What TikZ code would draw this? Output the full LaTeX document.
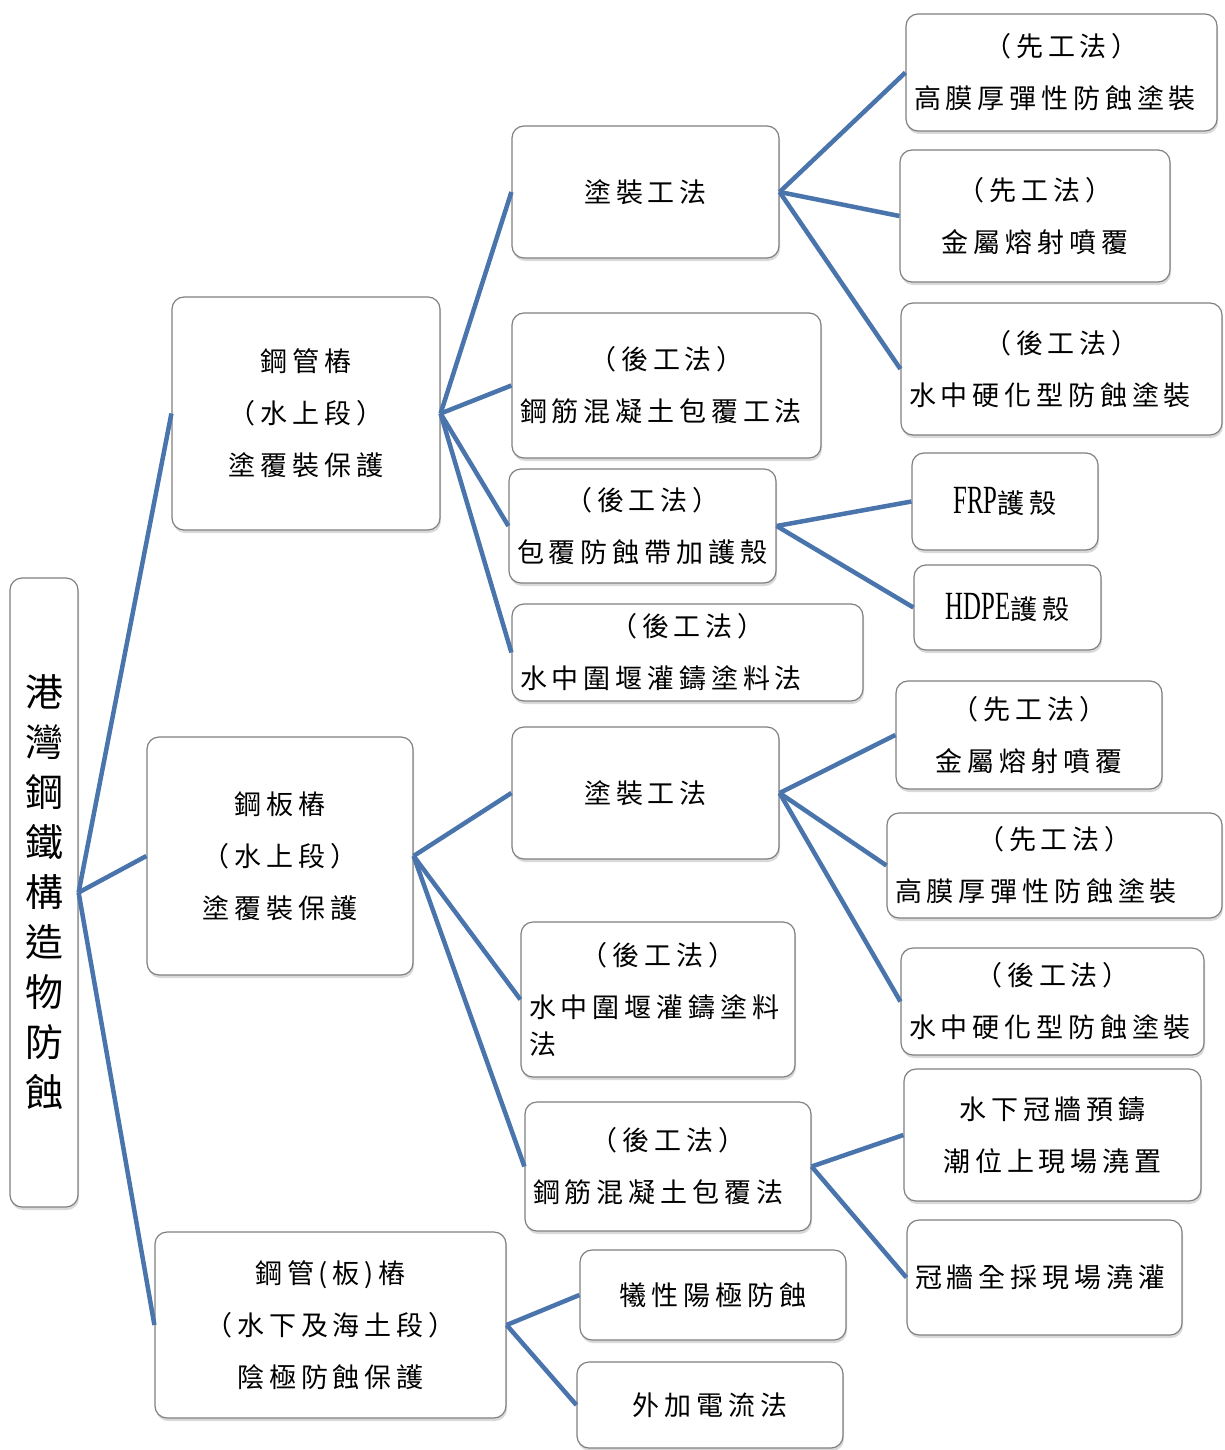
\documentclass[tikz,border=0pt]{standalone}
\usepackage{fontspec}
\setmainfont{Noto Sans CJK TC}
\newfontfamily\cjkf[LetterSpace=18]{Noto Sans CJK TC}
\newfontfamily\latf[FakeStretch=0.62]{Liberation Serif}
\usetikzlibrary{shadows}
\definecolor{linkc}{RGB}{74,116,172}
\definecolor{edgec}{RGB}{128,128,128}
\newcommand{\lft}[1]{\makebox[\hsize][l]{#1}}
\begin{document}
\begin{tikzpicture}[x=1pt,y=-1pt,
  box/.style={draw=edgec, line width=1.2pt, fill=white, rounded corners=12pt,
    inner xsep=8pt, inner ysep=0pt, align=center,
    font=\cjkf\fontsize{27}{52}\selectfont,
    drop shadow={shadow xshift=1pt, shadow yshift=-3pt, opacity=0.3}},
  link/.style={draw=linkc, line width=4.5pt}]
\useasboundingbox (0,0) rectangle (1224,1450);

% root
\node[box, font=\normalfont\fontsize{38}{50}\selectfont, text width=52, minimum height=629] (root) at (44,892.5)
  {港\\灣\\鋼\\鐵\\構\\造\\物\\防\\蝕};

% level 1
\node[box, text width=252, minimum height=233] (A) at (306,413.5) {鋼管樁\\（水上段）\\塗覆裝保護};
\node[box, text width=250, minimum height=238] (B) at (280,856) {鋼板樁\\（水上段）\\塗覆裝保護};
\node[box, text width=335, minimum height=186] (C) at (330.5,1325) {鋼管(板)樁\\（水下及海土段）\\陰極防蝕保護};

% level 2 under A
\node[box, text width=251, minimum height=132] (A1) at (645.5,192) {塗裝工法};
\node[box, text width=293, minimum height=145] (A2) at (666.5,385.5) {（後工法）\\\lft{鋼筋混凝土包覆工法}};
\node[box, text width=251, minimum height=114] (A3) at (642.5,526) {（後工法）\\\lft{包覆防蝕帶加護殼}};
\node[box, text width=335, minimum height=97] (A4) at (687.5,652.5) {（後工法）\\\lft{水中圍堰灌鑄塗料法}};

% level 3 under A1
\node[box, text width=295, minimum height=117] (A1a) at (1061.5,72.5) {（先工法）\\\lft{高膜厚彈性防蝕塗裝}};
\node[box, text width=254, minimum height=132] (A1b) at (1035,216) {（先工法）\\金屬熔射噴覆};
\node[box, text width=305, minimum height=132] (A1c) at (1061.5,369) {（後工法）\\\lft{水中硬化型防蝕塗裝}};

% level 3 under A3
\node[box, text width=170, minimum height=97] (FRP) at (1005,501.5) {{\latf\fontsize{40}{52}\selectfont FRP}護殼};
\node[box, text width=171, minimum height=85] (HDPE) at (1007.5,607.5) {{\latf\fontsize{40}{52}\selectfont HDPE}護殼};

% level 2 under B
\node[box, text width=251, minimum height=132] (B1) at (645.5,793) {塗裝工法};
\node[box, text width=258, minimum height=155] (B2) at (658,999.5) {（後工法）\\\lft{水中圍堰灌鑄塗料}\\[-15pt]\lft{法}};
\node[box, text width=270, minimum height=129] (B3) at (668,1166.5) {（後工法）\\\lft{鋼筋混凝土包覆法}};

% level 3 under B1
\node[box, text width=250, minimum height=108] (B1a) at (1029,735) {（先工法）\\金屬熔射噴覆};
\node[box, text width=319, minimum height=105] (B1b) at (1054.5,865.5) {（先工法）\\\lft{高膜厚彈性防蝕塗裝}};
\node[box, text width=287, minimum height=107] (B1c) at (1052.5,1001.5) {（後工法）\\\lft{水中硬化型防蝕塗裝}};

% level 3 under B3
\node[box, text width=281, minimum height=132] (B3a) at (1052.5,1135) {水下冠牆預鑄\\潮位上現場澆置};
\node[box, text width=259, minimum height=115] (B3b) at (1044.5,1277.5) {\lft{冠牆全採現場澆灌}};

% level 2 under C
\node[box, text width=250, minimum height=90] (C1) at (713,1295) {犧性陽極防蝕};
\node[box, text width=250, minimum height=86] (C2) at (710,1405) {外加電流法};

% connectors
\draw[link] (root.east) -- (A.west);
\draw[link] (root.east) -- (B.west);
\draw[link] (root.east) -- (C.west);
\draw[link] (A.east) -- (A1.west);
\draw[link] (A.east) -- (A2.west);
\draw[link] (A.east) -- (A3.west);
\draw[link] (A.east) -- (A4.west);
\draw[link] (A1.east) -- (A1a.west);
\draw[link] (A1.east) -- (A1b.west);
\draw[link] (A1.east) -- (A1c.west);
\draw[link] (A3.east) -- (FRP.west);
\draw[link] (A3.east) -- (HDPE.west);
\draw[link] (B.east) -- (B1.west);
\draw[link] (B.east) -- (B2.west);
\draw[link] (B.east) -- (B3.west);
\draw[link] (B1.east) -- (B1a.west);
\draw[link] (B1.east) -- (B1b.west);
\draw[link] (B1.east) -- (B1c.west);
\draw[link] (B3.east) -- (B3a.west);
\draw[link] (B3.east) -- (B3b.west);
\draw[link] (C.east) -- (C1.west);
\draw[link] (C.east) -- (C2.west);
\end{tikzpicture}
\end{document}
